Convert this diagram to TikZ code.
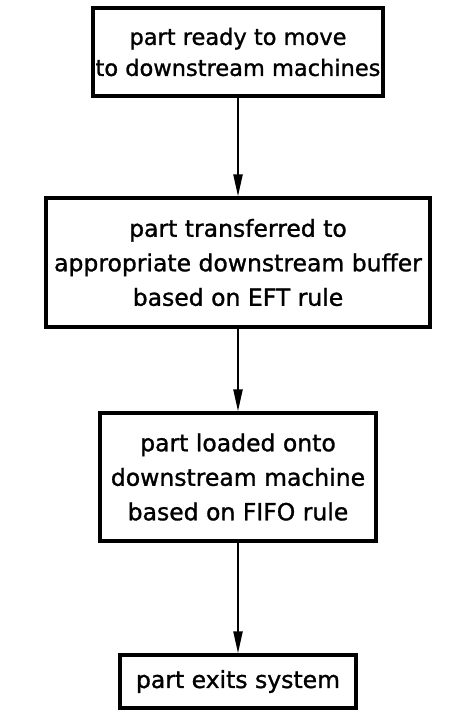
\documentclass[tikz,border=0pt]{standalone}
\usepackage{fontspec}
\setmainfont{DejaVu Sans}[FakeBold=1.2]
\usetikzlibrary{arrows.meta}
\begin{document}
\begin{tikzpicture}[x=1pt,y=-1pt,
  flowbox/.style={draw, line width=3.2pt, align=center, inner sep=0pt,
    font=\fontsize{23.5}{34.5}\selectfont},
  flow/.style={line width=2.2pt, -{Triangle[length=22pt,width=9pt]}}]
\useasboundingbox (0,0) rectangle (476,717);
% process steps, top to bottom
\node[flowbox, minimum width=290pt, minimum height=88pt,
  font=\fontsize{22.5}{31}\selectfont] (ready) at (238,52)
  {part ready to move\\to downstream machines};
\node[flowbox, minimum width=384pt, minimum height=129pt] (buffer) at (238,262.5)
  {part transferred to\\appropriate downstream buffer\\based on EFT rule};
\node[flowbox, minimum width=276pt, minimum height=128pt] (load) at (238,477)
  {part loaded onto\\downstream machine\\based on FIFO rule};
\node[flowbox, minimum width=236pt, minimum height=53pt] (exit) at (238,681.5)
  {part exits system};
% connectors
\draw[flow] (ready) -- (buffer);
\draw[flow] (buffer) -- (load);
\draw[flow] (load) -- (exit);
\end{tikzpicture}
\end{document}
